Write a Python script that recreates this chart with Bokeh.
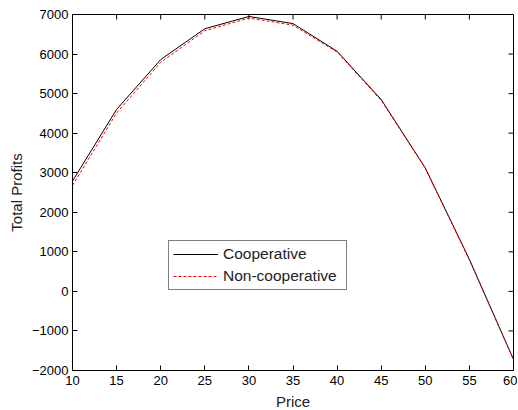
import math
from bokeh.plotting import figure
from bokeh.models import Range1d, FixedTicker, Legend, LegendItem
from bokeh.embed import file_html
from bokeh.resources import INLINE

price = [10, 15, 20, 25, 30, 35, 40, 45, 50, 55, 60]
cooperative = [2790, 4600, 5860, 6640, 6950, 6770, 6070, 4850, 3120, 810, -1720]
non_cooperative = [2680, 4510, 5790, 6590, 6910, 6730, 6050, 4830, 3110, 790, -1730]

x_ticks = [10, 15, 20, 25, 30, 35, 40, 45, 50, 55, 60]
y_ticks = [-2000, -1000, 0, 1000, 2000, 3000, 4000, 5000, 6000, 7000]

FONT = "Liberation Sans"
X0, X1 = 10, 60
Y0, Y1 = -2000, 7000

p = figure(frame_width=441, frame_height=356, output_backend="svg", toolbar_location=None,
           x_range=Range1d(X0, X1), y_range=Range1d(Y0, Y1),
           min_border_left=72, min_border_top=14, min_border_right=4, min_border_bottom=39)

p.background_fill_color = "white"
p.border_fill_color = "white"
p.outline_line_color = "black"
p.outline_line_width = 1
p.xgrid.visible = False
p.ygrid.visible = False

for ax, ticks in ((p.xaxis[0], x_ticks), (p.yaxis[0], y_ticks)):
    ax.ticker = FixedTicker(ticks=ticks)
    ax.major_tick_in = 5
    ax.major_tick_out = 0
    ax.minor_tick_in = 0
    ax.minor_tick_out = 0
    ax.axis_line_color = "black"
    ax.major_tick_line_color = "black"
    ax.major_label_text_font = FONT
    ax.major_label_text_font_size = "13px"
    ax.major_label_text_color = "black"
    ax.axis_label_text_font = FONT
    ax.axis_label_text_font_size = "15px"
    ax.axis_label_text_font_style = "normal"
    ax.axis_label_text_color = "#222222"

p.xaxis[0].axis_label = "Price"
p.yaxis[0].axis_label = "Total Profits"
p.xaxis[0].major_label_standoff = 5
p.yaxis[0].major_label_standoff = 4
p.xaxis[0].axis_label_standoff = 5
p.yaxis[0].axis_label_standoff = 4

# inward ticks on the top and right edges of the box
p.ray(x=x_ticks, y=[Y1] * len(x_ticks), length=5, length_units="screen",
      angle=-math.pi / 2, line_color="black", line_width=1)
p.ray(x=[X1] * len(y_ticks), y=y_ticks, length=5, length_units="screen",
      angle=math.pi, line_color="black", line_width=1)

r1 = p.line(price, cooperative, line_color="black", line_width=1)
r2 = p.line(price, non_cooperative, line_color="red", line_width=1, line_dash="3 2")

legend = Legend(items=[LegendItem(label="Cooperative", renderers=[r1]),
                       LegendItem(label="Non-cooperative", renderers=[r2])],
                location=(96, 80))
legend.border_line_color = "black"
legend.border_line_width = 1
legend.background_fill_color = "white"
legend.background_fill_alpha = 1
legend.label_text_font = FONT
legend.label_text_font_size = "15.5px"
legend.label_text_color = "#222222"
legend.glyph_width = 45
legend.glyph_height = 18
legend.label_height = 18
legend.label_width = 119
legend.label_standoff = 5
legend.spacing = 4
legend.padding = 4
legend.margin = 0
p.add_layout(legend, "center")

open("out.html", "w").write(file_html(p, INLINE))
